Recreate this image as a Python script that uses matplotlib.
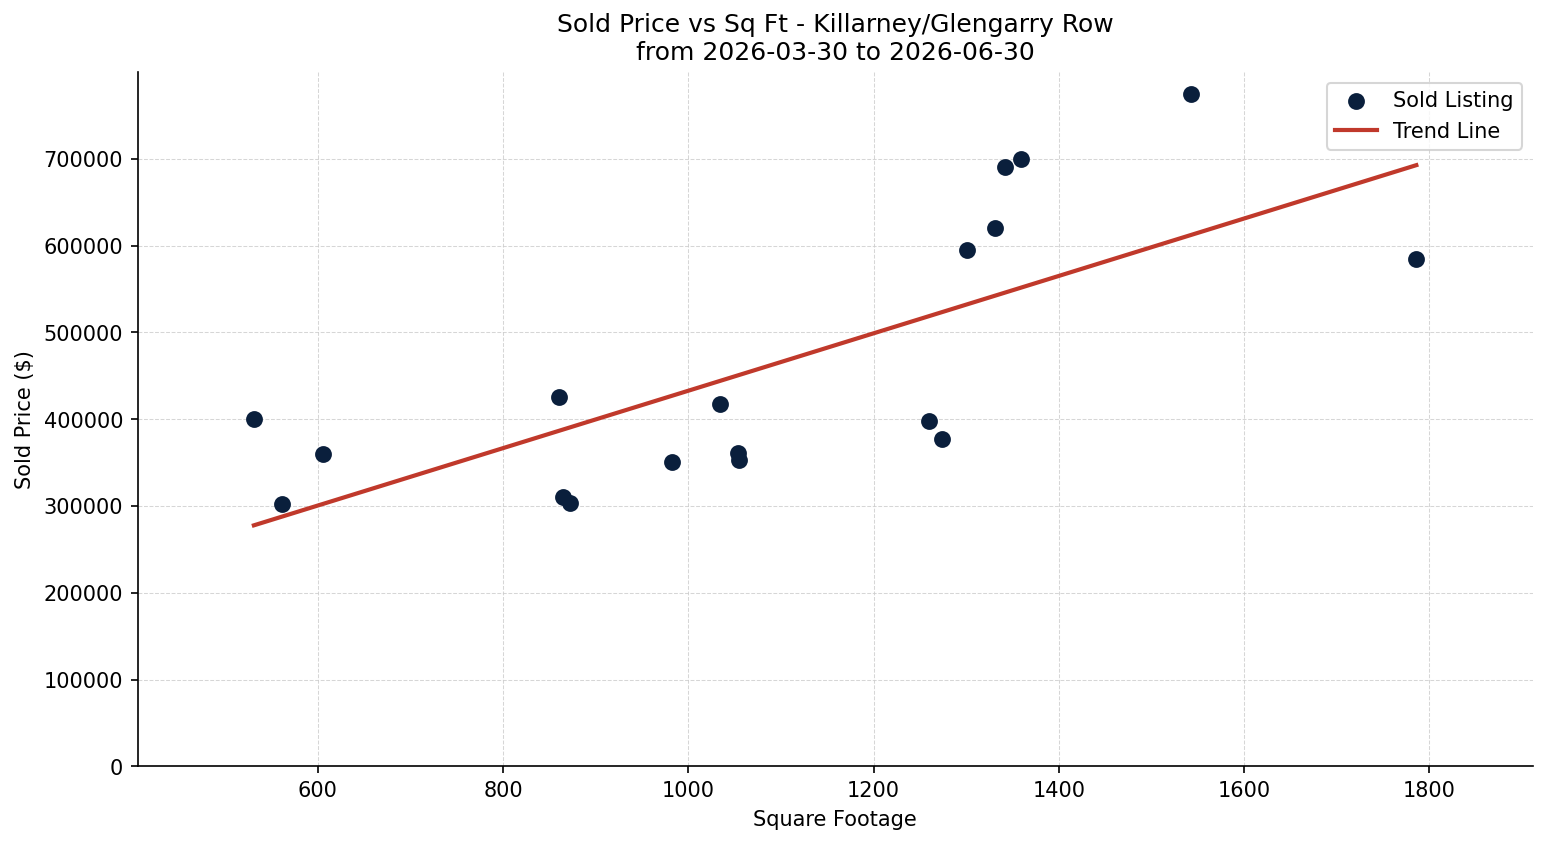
import matplotlib.pyplot as plt
import numpy as np

sqft = [531, 561, 606, 860, 865, 872, 982, 1034, 1054, 1055,
        1260, 1274, 1301, 1331, 1342, 1359, 1543, 1786]
price = [400000, 302000, 360000, 425000, 310000, 303000, 351000, 418000, 361000, 353000,
         398000, 377000, 595000, 620000, 691000, 700000, 775000, 585000]

x = np.array(sqft)
y = np.array(price)
slope, intercept = np.polyfit(x, y, 1)
xs = np.array([x.min(), x.max()])

fig, ax = plt.subplots(figsize=(10.31, 5.63), dpi=150)
ax.scatter(x, y, color='#0a1f3c', s=50, label='Sold Listing', zorder=3)
ax.plot(xs, slope * xs + intercept, color='#c0392b', linewidth=2, label='Trend Line', zorder=2)

ax.set_title('Sold Price vs Sq Ft - Killarney/Glengarry Row\nfrom 2026-03-30 to 2026-06-30')
ax.set_xlabel('Square Footage')
ax.set_ylabel('Sold Price ($)')
ax.margins(x=0.1)
ax.set_ylim(bottom=0)
ax.grid(True, linestyle='--', linewidth=0.5, color='#cccccc', alpha=0.8)
ax.spines['top'].set_visible(False)
ax.spines['right'].set_visible(False)
ax.ticklabel_format(style='plain', axis='y')
ax.legend(loc='upper right')

fig.subplots_adjust(left=0.089, right=0.991, top=0.914, bottom=0.092)
fig.savefig('out.png', dpi=150)
